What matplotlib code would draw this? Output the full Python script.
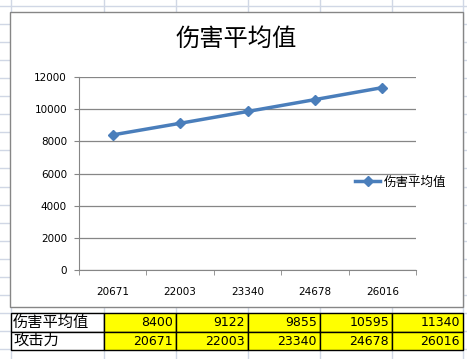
import matplotlib
matplotlib.use("Agg")
import matplotlib.pyplot as plt
from matplotlib.patches import Rectangle

plt.rcParams['font.family'] = ['DejaVu Sans', 'Noto Sans CJK SC']

title = '伤害平均值'
attack = ['20671', '22003', '23340', '24678', '26016']
damage = [8400, 9122, 9855, 10595, 11340]
row_names = ['伤害平均值', '攻击力']

fig = plt.figure(figsize=(4.67, 3.59), dpi=100)

# sheet background in pixel coords
bg = fig.add_axes([0, 0, 1, 1])
bg.set_xlim(0, 467)
bg.set_ylim(359, 0)
bg.axis('off')

cols = [11, 104, 176, 248, 320, 392, 463]
for x in cols:
    bg.axvline(x, color='#D0D7E5', lw=1, zorder=0)
for k in range(20):
    bg.axhline(5.5 + 18.1 * k, color='#D0D7E5', lw=1, zorder=0)

# chart area
bg.add_patch(Rectangle((10, 12), 453, 295, fc='white', ec='#868686', lw=1, zorder=1))
bg.text(236, 39, title, fontsize=17.5, ha='center', va='center',
        family=['Noto Sans CJK SC'], zorder=2)

# data table under chart
rows_y = [313, 331.5, 350]
table_vals = [[str(v) for v in damage], attack]
for r, name in enumerate(row_names):
    y0, y1 = rows_y[r], rows_y[r + 1]
    bg.add_patch(Rectangle((cols[0], y0), cols[1] - cols[0], y1 - y0,
                           fc='white', ec='black', lw=1, zorder=2))
    bg.text(cols[0] + 2, (y0 + y1) / 2, name, fontsize=11, ha='left', va='center',
            family=['Noto Sans CJK SC'], zorder=3)
    for c, val in enumerate(table_vals[r]):
        x0, x1 = cols[c + 1], cols[c + 2]
        bg.add_patch(Rectangle((x0, y0), x1 - x0, y1 - y0,
                               fc='#FFFF00', ec='black', lw=1, zorder=2))
        bg.text(x1 - 3, (y0 + y1) / 2 + 0.5, val, fontsize=9, ha='right',
                va='center', zorder=3)

# plot area
ax = fig.add_axes([79 / 467, 1 - 270 / 359, 337 / 467, 193 / 359])
ax.patch.set_alpha(0)
line, = ax.plot(range(len(damage)), damage, color='#4A7EBB', lw=2.5,
                marker='D', ms=5.5, label=title)
ax.set_xlim(-0.5, len(damage) - 0.5)
ax.set_ylim(0, 12000)
ax.set_yticks(range(0, 12001, 2000))
ax.yaxis.grid(True, color='#868686', lw=0.9)
ax.set_axisbelow(True)
for s in ['top', 'right']:
    ax.spines[s].set_visible(False)
for s in ['left', 'bottom']:
    ax.spines[s].set_color('#868686')
ax.set_xticks(range(len(attack)))
ax.set_xticklabels(attack)
ax.set_xticks([i - 0.5 for i in range(len(attack) + 1)], minor=True)
ax.tick_params(axis='x', which='major', length=0, pad=12, labelsize=7.5)
ax.tick_params(axis='x', which='minor', length=3.6, color='#868686')
ax.tick_params(axis='y', length=3.6, color='#868686', pad=5, labelsize=7.5)

ax.legend(handles=[line], loc='center left', bbox_to_anchor=(355, 182),
          bbox_transform=bg.transData, frameon=False, handlelength=2.0,
          handletextpad=0.3, borderpad=0, borderaxespad=0,
          prop={'family': ['Noto Sans CJK SC'], 'size': 9})

fig.savefig('out.png', dpi=100)
